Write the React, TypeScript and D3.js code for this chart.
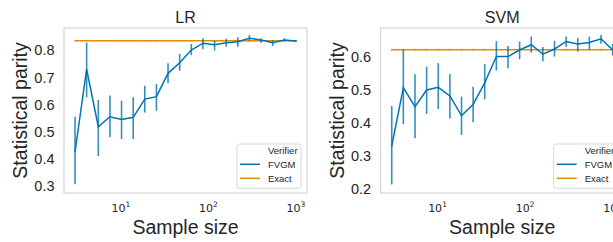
import React from "react";
import * as d3 from "d3";

const sampleSizes = [3, 4.07, 5.53, 7.51, 10.19, 13.84, 18.79, 25.5, 34.6, 47.0, 63.8, 86.6, 117.6, 159.6, 216.7, 294.2, 399.4, 542.2, 736.1, 1000];

const lrMean = [0.426, 0.730, 0.518, 0.555, 0.545, 0.553, 0.620, 0.629, 0.715, 0.754, 0.801, 0.826, 0.820, 0.828, 0.831, 0.844, 0.838, 0.828, 0.838, 0.834];
const lrLow = [0.306, 0.627, 0.410, 0.479, 0.473, 0.473, 0.571, 0.577, 0.678, 0.725, 0.782, 0.804, 0.799, 0.813, 0.813, 0.835, 0.828, 0.816, 0.832, 0.830];
const lrHigh = [0.555, 0.828, 0.617, 0.633, 0.614, 0.627, 0.669, 0.676, 0.752, 0.786, 0.823, 0.844, 0.835, 0.842, 0.848, 0.856, 0.844, 0.838, 0.844, 0.838];
const lrExact = 0.835;

const svmMean = [0.329, 0.507, 0.449, 0.500, 0.508, 0.482, 0.422, 0.456, 0.522, 0.602, 0.602, 0.622, 0.638, 0.609, 0.625, 0.648, 0.640, 0.645, 0.656, 0.622];
const svmLow = [0.212, 0.396, 0.353, 0.427, 0.442, 0.413, 0.363, 0.402, 0.472, 0.559, 0.566, 0.594, 0.614, 0.587, 0.602, 0.632, 0.617, 0.624, 0.641, 0.605];
const svmHigh = [0.451, 0.622, 0.548, 0.571, 0.582, 0.549, 0.480, 0.510, 0.579, 0.649, 0.634, 0.648, 0.663, 0.631, 0.650, 0.663, 0.658, 0.663, 0.668, 0.640];
const svmExact = 0.623;
const exactErr = 0.003;

const lrTicks = [0.3, 0.4, 0.5, 0.6, 0.7, 0.8];
const svmTicks = [0.2, 0.3, 0.4, 0.5, 0.6];
const xTicks = [1, 2, 3];
const legendTitle = "Verifier";
const seriesNames = ["FVGM", "Exact"];

const BLUE = "#0173b2";
const ORANGE = "#de8f05";
const TEXT = "#262626";
const FONT = "'Liberation Sans', Arial, sans-serif";

type PanelProps = {
  left: number;
  title: string;
  mean: number[];
  low: number[];
  high: number[];
  exact: number;
  yDomain: [number, number];
  yTicks: number[];
};

function Panel({ left, title, mean, low, high, exact, yDomain, yTicks }: PanelProps) {
  const top = 28;
  const bottom = 193;
  const width = 243;
  const right = left + width;
  const lo = Math.log10(3);
  const hi = 3;
  const pad = (hi - lo) * 0.05;
  const x = d3.scaleLog().domain([Math.pow(10, lo - pad), Math.pow(10, hi + pad)]).range([left, right]);
  const y = d3.scaleLinear().domain(yDomain).range([bottom, top]);
  const line = d3.line<number>().x((_, i) => x(sampleSizes[i])).y((d) => y(d));
  const cx = (left + right) / 2;
  const cy = (top + bottom) / 2;
  const lx = left + 173;
  return (
    <g>
      <rect x={left} y={top} width={width} height={bottom - top} fill="white" stroke="#cccccc" strokeWidth={1} />
      <text x={cx} y={22.5} textAnchor="middle" fontSize={16} fill={TEXT} fontFamily={FONT}>{title}</text>
      {yTicks.map((t) => (
        <text key={t} x={left - 9.5} y={y(t)} dy="0.36em" textAnchor="end" fontSize={14.5} fill={TEXT} fontFamily={FONT}>{t.toFixed(1)}</text>
      ))}
      {xTicks.map((p) => (
        <text key={p} x={x(Math.pow(10, p))} y={212} textAnchor="middle" fontSize={11} fill={TEXT} fontFamily="'DejaVu Sans', sans-serif">
          10<tspan dy="-5" fontSize={7.5}>{p}</tspan>
        </text>
      ))}
      <text x={cx} y={233.5} textAnchor="middle" fontSize={19.5} fill={TEXT} fontFamily={FONT}>Sample size</text>
      <text transform={`translate(${left - 37},${cy}) rotate(-90)`} textAnchor="middle" fontSize={19.5} fill={TEXT} fontFamily={FONT}>Statistical parity</text>
      <line x1={x(sampleSizes[0])} x2={x(sampleSizes[sampleSizes.length - 1])} y1={y(exact)} y2={y(exact)} stroke={ORANGE} strokeWidth={1.5} />
      {sampleSizes.map((s, i) => (
        <line key={"e" + i} x1={x(s)} x2={x(s)} y1={y(exact - exactErr)} y2={y(exact + exactErr)} stroke={ORANGE} strokeWidth={1.2} />
      ))}
      {sampleSizes.map((s, i) => (
        <line key={"b" + i} x1={x(s)} x2={x(s)} y1={y(low[i])} y2={y(high[i])} stroke={BLUE} strokeOpacity={0.8} strokeWidth={1.6} />
      ))}
      <path d={line(mean) || ""} fill="none" stroke={BLUE} strokeWidth={1.5} />
      <rect x={lx} y={144} width={64} height={44.3} rx={2.5} fill="white" fillOpacity={0.8} stroke="#cccccc" strokeWidth={0.8} />
      <text x={lx + 31} y={150.7} dy="0.35em" fontSize={9.5} fill={TEXT} fontFamily={FONT}>{legendTitle}</text>
      {seriesNames.map((n, i) => (
        <g key={n}>
          <line x1={lx + 3} x2={lx + 23} y1={164.3 + i * 14} y2={164.3 + i * 14} stroke={i === 0 ? BLUE : ORANGE} strokeWidth={1.5} />
          <text x={lx + 31} y={164.3 + i * 14} dy="0.35em" fontSize={9.5} fill={TEXT} fontFamily={FONT}>{n}</text>
        </g>
      ))}
    </g>
  );
}

export default function App() {
  return (
    <svg width={613} height={242} style={{ position: "absolute", left: 0, top: 0, background: "white" }}>
      <Panel left={64} title="LR" mean={lrMean} low={lrLow} high={lrHigh} exact={lrExact} yDomain={[0.274, 0.882]} yTicks={lrTicks} />
      <Panel left={380.7} title="SVM" mean={svmMean} low={svmLow} high={svmHigh} exact={svmExact} yDomain={[0.186, 0.689]} yTicks={svmTicks} />
    </svg>
  );
}
